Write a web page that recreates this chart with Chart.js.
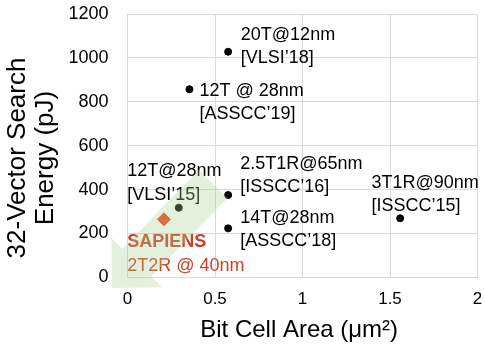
<!DOCTYPE html>
<html>
<head>
<meta charset="utf-8">
<script src="https://cdn.jsdelivr.net/npm/chart.js@4"></script>
<style>
html, body { margin: 0; padding: 0; background: #fff; }
#caja { width: 485px; height: 349px; }
</style>
</head>
<body>
<div id="caja"><canvas id="grafica"></canvas></div>
<script>
// datos
const disenos = ['20T@12nm', '12T @ 28nm', '12T@28nm', '2.5T1R@65nm', '14T@28nm', '3T1R@90nm'];
const referencias = ['[VLSI’18]', '[ASSCC’19]', '[VLSI’15]', '[ISSCC’16]', '[ASSCC’18]', '[ISSCC’15]'];
const areas = [0.575, 0.354, 0.293, 0.575, 0.575, 1.558];
const energias = [1028, 857, 317, 375, 223, 269];

const sapiensNombre = ['SAPIENS', '2T2R @ 40nm'];
const sapiensArea = [0.208];
const sapiensEnergia = [264];

const ticksX = [0, 0.5, 1, 1.5, 2];
const ticksY = [0, 200, 400, 600, 800, 1000, 1200];
const tituloY = ['32-Vector Search', 'Energy (pJ)'];

// posicion de las etiquetas respecto al punto (px)
const despX = [12.7, 10, -51.6, 12, 12, -28.7];
const despY = [-12, 6.3, -31.7, -26.4, -5.4, -30.4];

const fuente = "'Liberation Sans', Arial, sans-serif";
const gris = '#d9d9d9';

const etiquetas = {
    id: 'etiquetas',
    afterDatasetsDraw(chart) {
        const ctx = chart.ctx;
        ctx.save();
        ctx.textBaseline = 'alphabetic';
        ctx.textAlign = 'left';
        ctx.font = '18px ' + fuente;
        ctx.fillStyle = '#000';
        chart.getDatasetMeta(0).data.forEach((p, i) => {
            let x = p.x + despX[i];
            let y = p.y + despY[i];
            ctx.fillText(disenos[i], x, y);
            ctx.fillText(referencias[i], x, y + 23.5);
        });
        let s = chart.getDatasetMeta(1).data[0];
        ctx.fillStyle = '#cc4125';
        ctx.font = 'bold 18px ' + fuente;
        ctx.fillText(sapiensNombre[0], s.x - 36.6, s.y + 28);
        ctx.font = '18px ' + fuente;
        ctx.fillText(sapiensNombre[1], s.x - 36.6, s.y + 52);

        // titulo del eje y (dos lineas, girado)
        ctx.fillStyle = '#000';
        ctx.font = '26px ' + fuente;
        ctx.textAlign = 'center';
        ctx.textBaseline = 'middle';
        ctx.translate(17.5, 158);
        ctx.rotate(-Math.PI / 2);
        tituloY.forEach((t, i) => ctx.fillText(t, 0, i * 28.5));
        ctx.restore();
    }
};

// flecha verde semitransparente
const flecha = {
    id: 'flecha',
    afterDraw(chart) {
        const sx = chart.scales.x, sy = chart.scales.y;
        const cola = [sx.getPixelForValue(0.49), sy.getPixelForValue(425)];
        const punta = [sx.getPixelForValue(-0.088), sy.getPixelForValue(-49)];
        let dx = punta[0] - cola[0], dy = punta[1] - cola[1];
        let L = Math.hypot(dx, dy);
        let u = [dx / L, dy / L];
        let n = [-u[1], u[0]];
        const w = 20, H = 35.4, cab = 35.4;
        let base = [punta[0] - u[0] * cab, punta[1] - u[1] * cab];
        const pts = [
            [cola[0] + n[0] * w, cola[1] + n[1] * w],
            [base[0] + n[0] * w, base[1] + n[1] * w],
            [base[0] + n[0] * H, base[1] + n[1] * H],
            punta,
            [base[0] - n[0] * H, base[1] - n[1] * H],
            [base[0] - n[0] * w, base[1] - n[1] * w],
            [cola[0] - n[0] * w, cola[1] - n[1] * w]
        ];
        const ctx = chart.ctx;
        ctx.save();
        ctx.beginPath();
        pts.forEach((p, i) => i ? ctx.lineTo(p[0], p[1]) : ctx.moveTo(p[0], p[1]));
        ctx.closePath();
        ctx.fillStyle = 'rgba(169, 209, 142, 0.32)';
        ctx.fill();
        ctx.restore();
    }
};

new Chart(document.getElementById('grafica'), {
    type: 'scatter',
    data: {
        datasets: [{
            label: 'otros',
            data: areas.map((a, i) => ({ x: a, y: energias[i] })),
            backgroundColor: '#000',
            borderColor: '#000',
            pointRadius: 3.5,
            pointHoverRadius: 3.5
        }, {
            label: 'SAPIENS',
            data: sapiensArea.map((a, i) => ({ x: a, y: sapiensEnergia[i] })),
            backgroundColor: '#f0401f',
            borderColor: '#f0401f',
            pointStyle: 'rectRot',
            pointRadius: 6.5,
            pointHoverRadius: 6.5
        }]
    },
    options: {
        responsive: true,
        maintainAspectRatio: false,
        animation: false,
        layout: { padding: { top: 14, left: 0, right: 4.3, bottom: 0 } },
        plugins: { legend: { display: false }, tooltip: { enabled: false } },
        scales: {
            x: {
                type: 'linear',
                min: 0,
                max: 2,
                afterBuildTicks: s => { s.ticks = ticksX.map(v => ({ value: v })); },
                afterFit: s => { s.height = 71.7; s.paddingLeft = 0; s.paddingRight = 0; },
                grid: { color: gris, drawTicks: false },
                border: { color: gris },
                ticks: {
                    padding: 12, color: '#000', font: { family: fuente, size: 17 },
                    callback: v => String(v)
                },
                title: {
                    display: true,
                    text: 'Bit Cell Area (μm²)\u00a0',
                    color: '#000',
                    font: { family: fuente, size: 24 },
                    padding: { top: 0, bottom: 4 }
                }
            },
            y: {
                min: 0,
                max: 1200,
                afterBuildTicks: s => { s.ticks = ticksY.map(v => ({ value: v })); },
                afterFit: s => { s.width = 127.5; s.paddingTop = 0; s.paddingBottom = 0; },
                grid: { color: gris, drawTicks: false },
                border: { color: gris },
                ticks: {
                    padding: 19, color: '#000', font: { family: fuente, size: 18 },
                    callback: v => String(v)
                }
            }
        }
    },
    plugins: [etiquetas, flecha]
});
</script>
</body>
</html>
